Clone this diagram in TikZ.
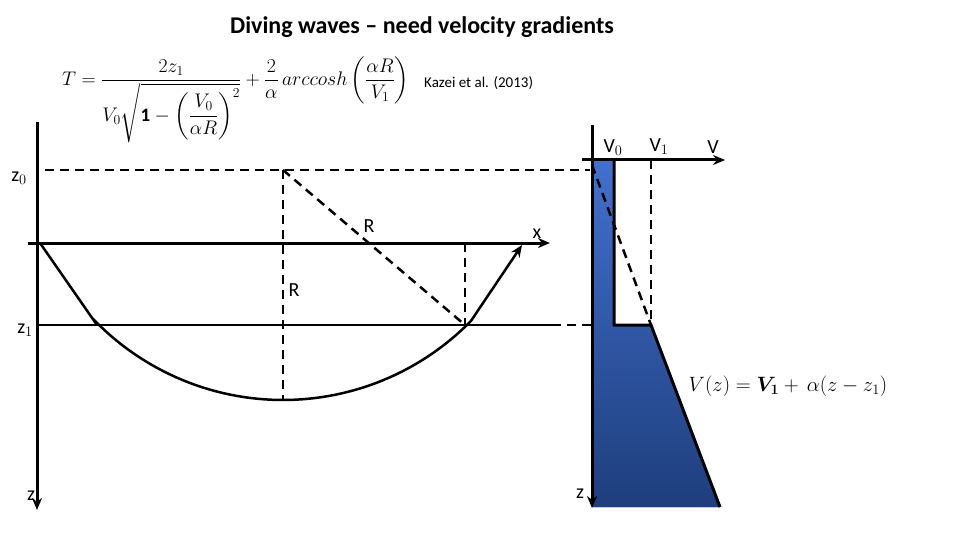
\documentclass[tikz,border=0pt]{standalone}
\usepackage{fontspec}
\setmainfont{Carlito}
\usepackage{amsmath}
\usetikzlibrary{arrows.meta}
\definecolor{btop}{RGB}{66,112,205}
\definecolor{bbot}{RGB}{30,62,125}
\tikzset{thick3/.style={line width=3pt},
 dsh/.style={line width=2.5pt,dash pattern=on 9pt off 6pt},
 ax/.style={line width=3pt,-{Stealth[length=12pt,width=10pt]}},
 lab/.style={font=\fontsize{20}{20}\selectfont,inner sep=0pt}}
\begin{document}
\begin{tikzpicture}[x=1pt,y=-1pt]
\useasboundingbox (0,0) rectangle (960,540);
\node[font=\fontsize{24}{24}\selectfont\bfseries] (title) at (422,27) {Diving waves -- need velocity gradients};
\node[anchor=west,font=\fontsize{20}{20}\selectfont,inner sep=0pt] (form) at (62,100) {\scalebox{0.95}{$T=\dfrac{2z_1}{V_0\sqrt{\mathbf{1}-\left(\dfrac{V_0}{\alpha R}\right)^2}}+\dfrac{2}{\alpha}\,arccosh\left(\dfrac{\alpha R}{V_1}\right)$}};
\node[anchor=west,font=\fontsize{15}{15}\selectfont,inner sep=0pt] (kaz) at (424,83) {Kazei et al. (2013)};
% left panel
\coordinate (zt) at (37,122); \coordinate (zb) at (37,510);
\draw[ax] (zt) -- (zb);
\coordinate (xl) at (28,243); \coordinate (xr) at (550,243);
\draw[ax] (xl) -- (xr);
\coordinate (z0a) at (45,170); \coordinate (z0b) at (590,170);
\draw[dsh] (z0a) -- (z0b);
\coordinate (z1a) at (37,325); \coordinate (z1b) at (552,325); \coordinate (z1c) at (592,325);
\draw[line width=2.5pt] (z1a) -- (z1b);
\draw[dsh] (z1b) -- (z1c);
\coordinate (c) at (283,170); \coordinate (bot) at (283,400);
\coordinate (p) at (465,325); \coordinate (pt) at (465,243);
\draw[dsh] (c) -- (bot);
\draw[dsh] (c) -- (p);
\draw[dsh] (pt) -- (p);
\coordinate (s) at (40,243); \coordinate (a1) at (97,325);
\coordinate (e) at (522,245);
\draw[line width=2.5pt,-{Stealth[length=12pt,width=10pt]}] (s) -- (a1)
  -- plot[domain=135.6:44.4,samples=60] ({283+263*cos(\x)},{137+263*sin(\x)}) -- (e);
\node[lab] (r1) at (369,226) {R};
\node[lab] (r2) at (294,290) {R};
\node[lab] (xlab) at (537,234) {x};
\node[lab] (z0l) at (19,178) {z$_0$};
\node[lab] (z1l) at (25,330) {z$_1$};
\node[lab] (zl) at (31,496) {z};
% right panel
\fill[top color=btop,bottom color=bbot] (592,160) -- (614,160) -- (614,325) -- (651,325) -- (720,507) -- (592,507) -- cycle;
\draw[dsh] (592,165) -- (651,325);
\coordinate (va) at (582,160); \coordinate (vb) at (725,160);
\draw[ax] (va) -- (vb);
\coordinate (rt) at (592,125); \coordinate (rb) at (592,508);
\draw[ax] (rt) -- (rb);
\draw[line width=3pt] (614,160) -- (614,325) -- (651,325) -- (720,507);
\coordinate (v1t) at (651,160);
\draw[dsh] (v1t) -- (651,325);
\node[lab] (v0l) at (613,148) {V$_0$};
\node[lab] (v1l) at (659,147) {V$_1$};
\node[lab] (vl) at (713,147) {V};
\node[lab] (zr) at (580,494) {z};
\node[font=\fontsize{20}{20}\selectfont,inner sep=0pt] (vz) at (788,386) {$V(z)=\boldsymbol{V_1}+\,\alpha(z-z_1)$};
\end{tikzpicture}
\end{document}
